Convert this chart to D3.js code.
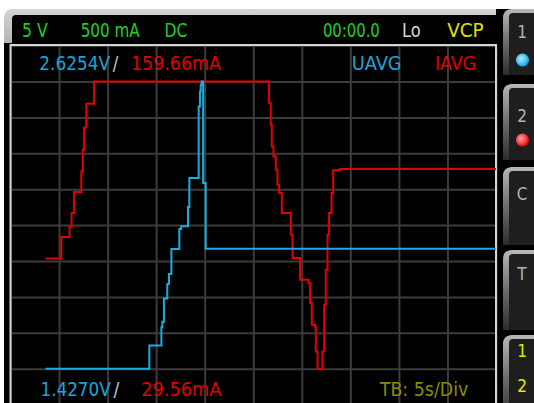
<!DOCTYPE html>
<html><head><meta charset="utf-8">
<script src="https://cdn.jsdelivr.net/npm/d3@7"></script>
<style>html,body{margin:0;padding:0;background:#fff;overflow:hidden}svg{display:block}</style>
</head><body><svg id="c" width="534" height="403"></svg>
<script>
// ---------- data ----------
const redTime    = [3.61, 5.23, 6.08, 6.29, 6.53, 7.29, 7.45, 7.56, 7.80, 8.59, 26.63, 26.80, 26.91, 27.08, 27.32, 27.49, 27.66, 27.94, 28.87, 29.04, 29.82, 30.69, 30.85, 31.03, 31.37, 31.44, 31.62, 32.13, 32.30, 32.47, 32.65, 32.81, 33.06, 33.23, 33.92, 50.0];
const redCurrent = [79.50, 89.19, 93.99, 100.06, 109.57, 118.90, 128.73, 138.69, 149.56, 159.66, 150.01, 140.05, 130.22, 125.69, 119.67, 112.88, 109.26, 100.06, 90.24, 79.68, 69.86, 68.36, 59.30, 49.48, 48.57, 37.39, 29.56, 37.39, 58.53, 74.38, 90.24, 100.06, 109.12, 119.44, 119.99, 119.99];
const blueTime    = [3.61, 14.30, 15.54, 15.64, 15.80, 16.15, 16.32, 16.57, 17.39, 17.58, 18.28, 18.42, 19.38, 19.51, 19.59, 19.69, 19.84, 20.10, 50.0];
const blueVoltage = [1.4270, 1.5243, 1.6002, 1.6231, 1.7203, 1.7804, 1.8221, 1.9268, 2.0102, 2.0214, 2.1019, 2.2225, 2.5211, 2.5837, 2.6116, 2.6254, 2.2016, 1.9276, 1.9276];
const timeTicks = [0, 5, 10, 15, 20, 25, 30, 35, 40, 45, 50];
const statusLabels = ["5 V", "500 mA", "DC", "00:00.0", "Lo", "VCP"];
const measureLabels = ["UAVG", "IAVG"];
const timebaseLabel = "TB: 5s/Div";
const tabLabels = ["1", "2", "C", "T"];
const refLabels = ["1", "2"];

// ---------- layout ----------
const svg = d3.select("#c");
const defs = svg.append("defs");
const X0 = 10.5, X1 = 496, Y0 = 45.6, Y1 = 404.6;

const vMax = d3.max(blueVoltage), vMin = d3.min(blueVoltage);
const iMax = d3.max(redCurrent), iMin = d3.min(redCurrent);
const vDiv = (vMax - vMin) / 8, iDiv = (iMax - iMin) / 8;
const x = d3.scaleLinear().domain([0, 50]).range([X0, X1]);
const yV = d3.scaleLinear().domain([vMin - vDiv, vMax + vDiv]).range([Y1, Y0]);
const yI = d3.scaleLinear().domain([iMin - iDiv, iMax + iDiv]).range([Y1, Y0]);
const vTicks = d3.range(11).map(k => vMin - vDiv + k * vDiv);

// gradients
const g1 = defs.append("linearGradient").attr("id","frameG").attr("x1",0).attr("y1",0).attr("x2",0).attr("y2",1);
g1.append("stop").attr("offset","0").attr("stop-color","#d4d4d4");
g1.append("stop").attr("offset","0.2").attr("stop-color","#8a8a8a");
g1.append("stop").attr("offset","1").attr("stop-color","#2a2a2a");
const g2 = defs.append("linearGradient").attr("id","tabG").attr("x1",0).attr("y1",0).attr("x2",0).attr("y2",1);
g2.append("stop").attr("offset","0").attr("stop-color","#b8b8b8");
g2.append("stop").attr("offset","0.5").attr("stop-color","#6e6e6e");
g2.append("stop").attr("offset","1").attr("stop-color","#2c2c2c");
function dotGrad(id, c1, c2) {
  const r = defs.append("radialGradient").attr("id", id).attr("cx","0.4").attr("cy","0.4").attr("r","0.6");
  r.append("stop").attr("offset","0").attr("stop-color", c1);
  r.append("stop").attr("offset","1").attr("stop-color", c2);
}
dotGrad("blueDot", "#aef0ff", "#10a8e8");
dotGrad("redDot", "#ffb0b0", "#f00000");

// background
svg.append("rect").attr("width",534).attr("height",403).attr("fill","#fff");
// display frame
svg.append("path").attr("d","M4,403 L4,18 Q4,9 13,9 L505,9 L505,403 Z").attr("fill","url(#frameG)");
svg.append("path").attr("d","M12,44 L12,19 Q12,15 16,15 L505,15 L505,44 Z").attr("fill","#000");
svg.append("rect").attr("x",4).attr("y",43).attr("width",501).attr("height",360).attr("fill","#000");
svg.append("rect").attr("x",496).attr("y",9).attr("width",38).attr("height",394).attr("fill","#000");

// right-side tabs
const tabs = [[9,75],[84,160],[167,245],[250,330],[335,420]];
tabs.forEach(([a,b]) => {
  svg.append("path").attr("d",`M503,${b} L503,${a+9} Q503,${a} 512,${a} L534,${a} L534,${b} Z`).attr("fill","url(#tabG)");
  svg.append("path").attr("d",`M509,${b} L509,${a+8} Q509,${a+4} 513,${a+4} L534,${a+4} L534,${b} Z`).attr("fill","#1e1e1e");
});
const tabY = [38, 122, 200, 280];
tabLabels.forEach((t,i) => svg.append("text").attr("x",522).attr("y",tabY[i]).attr("text-anchor","middle")
  .attr("font-family","Liberation Sans Narrow, DejaVu Sans Condensed, sans-serif").attr("font-size",17).attr("fill","#b4b4b4").text(t));
[[357, "#e8e800"],[392, "#e8e800"]].forEach(([y,c],i) => svg.append("text").attr("x",522).attr("y",y).attr("text-anchor","middle")
  .attr("font-family","Liberation Sans Narrow, DejaVu Sans Condensed, sans-serif").attr("font-size",17).attr("fill",c).text(refLabels[i]));
svg.append("circle").attr("cx",522.5).attr("cy",60).attr("r",6.5).attr("fill","url(#blueDot)");
svg.append("circle").attr("cx",522.5).attr("cy",140).attr("r",6.5).attr("fill","url(#redDot)");

// status bar text
const font = "Liberation Sans Narrow, DejaVu Sans Condensed, sans-serif";
const statusPos = [[22.1,25.6,"#1ed21e"],[80.7,58.9,"#1ed21e"],[164.5,22.8,"#1ed21e"],[322.9,56.9,"#1ed21e"],[401.9,18.7,"#d8d8d8"],[447.2,36.5,"#e0e000"]];
statusLabels.forEach((t,i) => svg.append("text").attr("x",statusPos[i][0]).attr("y",36.5)
  .attr("font-family",font).attr("font-size",20).attr("fill",statusPos[i][2])
  .attr("textLength",statusPos[i][1]).attr("lengthAdjust","spacingAndGlyphs").text(t));

// grid
const plot = svg.append("g");
const gx = plot.append("g").attr("transform",`translate(0,${Y0})`)
  .call(d3.axisTop(x).tickValues(timeTicks).tickSize(-(Y1 - Y0)).tickFormat(""));
const gy = plot.append("g").attr("transform",`translate(${X0},0)`)
  .call(d3.axisLeft(yV).tickValues(vTicks).tickSize(-(X1 - X0)).tickFormat(""));
[gx, gy].forEach(g => { g.select(".domain").remove(); g.selectAll("line").attr("stroke","#3c3c3c").attr("stroke-width",2); });
// border
plot.append("rect").attr("x",X0).attr("y",Y0 - 0.6).attr("width",X1 - X0).attr("height",Y1 - Y0 + 10)
  .attr("fill","none").attr("stroke","#d4d4d4").attr("stroke-width",2);

// traces
defs.append("clipPath").attr("id","clip").append("rect").attr("x",X0).attr("y",Y0).attr("width",X1-X0).attr("height",Y1-Y0);
const redData = redTime.map((t,i) => ({t, v: redCurrent[i]}));
const blueData = blueTime.map((t,i) => ({t, v: blueVoltage[i]}));
const tr = plot.append("g").attr("clip-path","url(#clip)");
tr.append("path").datum(redData).attr("fill","none").attr("stroke","#e40000").attr("stroke-width",2)
  .attr("d", d3.line().x(d => x(d.t)).y(d => yI(d.v)).curve(d3.curveStepAfter));
tr.append("path").datum(blueData).attr("fill","none").attr("stroke","#18aee0").attr("stroke-width",2)
  .attr("d", d3.line().x(d => x(d.t)).y(d => yV(d.v)).curve(d3.curveStepAfter));

// measurement texts
function txt(xp, yp, t, c, w, fs) {
  const e = svg.append("text").attr("x",xp).attr("y",yp).attr("font-family",font).attr("font-size",fs || 19).attr("fill",c).text(t);
  if (w) e.attr("textLength",w).attr("lengthAdjust","spacingAndGlyphs");
  return e;
}
txt(39.3, 70, vMax.toFixed(4) + "V", "#1aa6d6", 70.7);
txt(112.8, 70, "/", "#c8c8c8", 5.5);
txt(131, 70, iMax.toFixed(2) + "mA", "#e00000", 90);
txt(351.7, 70, measureLabels[0], "#1aa6d6", 50);
txt(435, 70, measureLabels[1], "#e00000", 41);
txt(40.5, 395.5, vMin.toFixed(4) + "V", "#1aa6d6", 70.2);
txt(113.4, 395.5, "/", "#c8c8c8", 5.8);
txt(141.3, 395.5, iMin.toFixed(2) + "mA", "#e00000", 80);
txt(379.8, 395.5, timebaseLabel, "#8c8c00", 88.5);
</script></body></html>
